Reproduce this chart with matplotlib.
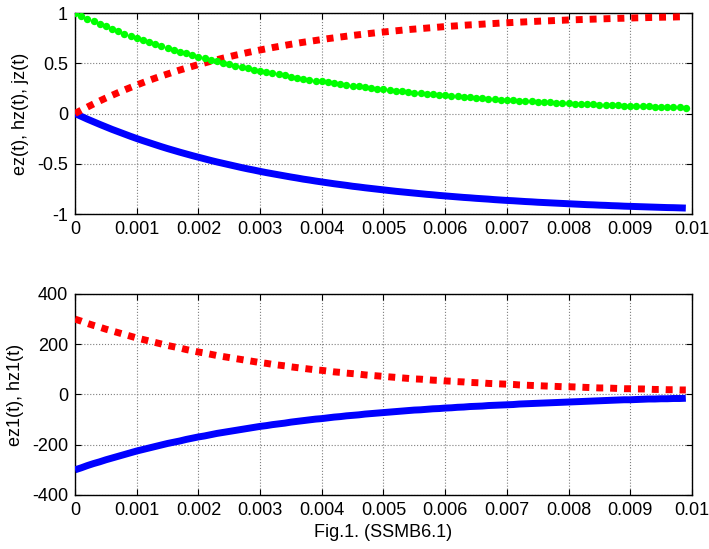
import matplotlib
matplotlib.use("Agg")
import matplotlib.pyplot as plt
import numpy as np

plt.rcParams['font.family'] = ['Liberation Sans', 'DejaVu Sans']

# time axis: 0 .. 0.0099 step 0.0001
t = np.arange(100) * 0.0001

jz = [1.000, 0.972, 0.944, 0.918, 0.892, 0.867, 0.842, 0.819, 0.796, 0.773,
      0.751, 0.730, 0.710, 0.690, 0.670, 0.651, 0.633, 0.615, 0.598, 0.581,
      0.565, 0.549, 0.533, 0.518, 0.504, 0.490, 0.476, 0.462, 0.449, 0.437,
      0.424, 0.412, 0.401, 0.390, 0.379, 0.368, 0.358, 0.347, 0.338, 0.328,
      0.319, 0.310, 0.301, 0.293, 0.285, 0.276, 0.269, 0.261, 0.254, 0.247,
      0.240, 0.233, 0.226, 0.220, 0.214, 0.208, 0.202, 0.196, 0.191, 0.185,
      0.180, 0.175, 0.170, 0.165, 0.161, 0.156, 0.152, 0.148, 0.143, 0.139,
      0.135, 0.132, 0.128, 0.124, 0.121, 0.117, 0.114, 0.111, 0.108, 0.105,
      0.102, 0.099, 0.096, 0.093, 0.091, 0.088, 0.086, 0.083, 0.081, 0.078,
      0.076, 0.074, 0.072, 0.070, 0.068, 0.066, 0.064, 0.063, 0.061, 0.059]

hz = [0.000, 0.033, 0.064, 0.095, 0.125, 0.154, 0.181, 0.208, 0.234, 0.259,
      0.283, 0.307, 0.330, 0.352, 0.373, 0.393, 0.413, 0.433, 0.451, 0.469,
      0.487, 0.503, 0.520, 0.535, 0.551, 0.565, 0.580, 0.593, 0.607, 0.620,
      0.632, 0.644, 0.656, 0.667, 0.678, 0.689, 0.699, 0.709, 0.718, 0.727,
      0.736, 0.745, 0.753, 0.761, 0.769, 0.777, 0.784, 0.791, 0.798, 0.805,
      0.811, 0.817, 0.823, 0.829, 0.835, 0.840, 0.845, 0.850, 0.855, 0.860,
      0.865, 0.869, 0.873, 0.878, 0.882, 0.885, 0.889, 0.893, 0.896, 0.900,
      0.903, 0.906, 0.909, 0.912, 0.915, 0.918, 0.921, 0.923, 0.926, 0.928,
      0.931, 0.933, 0.935, 0.937, 0.939, 0.941, 0.943, 0.945, 0.947, 0.948,
      0.950, 0.952, 0.953, 0.955, 0.956, 0.958, 0.959, 0.960, 0.962, 0.963]

ez = [0.000, -0.028, -0.056, -0.082, -0.108, -0.133, -0.158, -0.181, -0.204, -0.227,
      -0.249, -0.270, -0.290, -0.310, -0.330, -0.349, -0.367, -0.385, -0.402, -0.419,
      -0.435, -0.451, -0.467, -0.482, -0.496, -0.510, -0.524, -0.538, -0.551, -0.563,
      -0.576, -0.588, -0.599, -0.610, -0.621, -0.632, -0.642, -0.653, -0.662, -0.672,
      -0.681, -0.690, -0.699, -0.707, -0.715, -0.724, -0.731, -0.739, -0.746, -0.753,
      -0.760, -0.767, -0.774, -0.780, -0.786, -0.792, -0.798, -0.804, -0.809, -0.815,
      -0.820, -0.825, -0.830, -0.835, -0.839, -0.844, -0.848, -0.852, -0.857, -0.861,
      -0.865, -0.868, -0.872, -0.876, -0.879, -0.883, -0.886, -0.889, -0.892, -0.895,
      -0.898, -0.901, -0.904, -0.907, -0.909, -0.912, -0.914, -0.917, -0.919, -0.922,
      -0.924, -0.926, -0.928, -0.930, -0.932, -0.934, -0.936, -0.937, -0.939, -0.941]

hz1 = [300, 292, 283, 275, 268, 260, 253, 246, 239, 232,
       225, 219, 213, 207, 201, 195, 190, 185, 179, 174,
       169, 165, 160, 155, 151, 147, 143, 139, 135, 131,
       127, 124, 120, 117, 114, 110, 107, 104, 101, 98,
       96, 93, 90, 88, 85, 83, 81, 78, 76, 74,
       72, 70, 68, 66, 64, 62, 61, 59, 57, 56,
       54, 53, 51, 50, 48, 47, 46, 44, 43, 42,
       41, 40, 38, 37, 36, 35, 34, 33, 32, 31,
       31, 30, 29, 28, 27, 26, 26, 25, 24, 23,
       23, 22, 22, 21, 20, 20, 19, 19, 18, 18]

ez1 = [-300, -292, -283, -275, -268, -260, -253, -246, -239, -232,
       -225, -219, -213, -207, -201, -195, -190, -185, -179, -174,
       -169, -165, -160, -155, -151, -147, -143, -139, -135, -131,
       -127, -124, -120, -117, -114, -110, -107, -104, -101, -98,
       -96, -93, -90, -88, -85, -83, -81, -78, -76, -74,
       -72, -70, -68, -66, -64, -62, -61, -59, -57, -56,
       -54, -53, -51, -50, -48, -47, -46, -44, -43, -42,
       -41, -40, -38, -37, -36, -35, -34, -33, -32, -31,
       -30, -29, -28, -27, -26, -25, -24, -23, -22, -21,
       -21, -20, -19, -18, -18, -17, -17, -16, -16, -15]

xticks = [0, 0.001, 0.002, 0.003, 0.004, 0.005, 0.006, 0.007, 0.008, 0.009, 0.01]
xticklabels = ['0', '0.001', '0.002', '0.003', '0.004', '0.005', '0.006',
               '0.007', '0.008', '0.009', '0.01']
yticks_top = [-1, -0.5, 0, 0.5, 1]
yticklabels_top = ['-1', '-0.5', '0', '0.5', '1']
yticks_bot = [-400, -200, 0, 200, 400]
yticklabels_bot = ['-400', '-200', '0', '200', '400']

fig = plt.figure(figsize=(7.09, 5.49), dpi=100)
ax1 = fig.add_axes([0.1058, 0.6102, 0.8702, 0.3661])
ax2 = fig.add_axes([0.1058, 0.0984, 0.8702, 0.3661])

lw = 5.0
dot = (0, (1, 1))
fs = 13

ax1.plot(t, ez, color='#0000ff', lw=lw, solid_capstyle='butt', zorder=3)
ax1.plot(t, hz, color='#ff0000', lw=lw, linestyle=dot, zorder=4)
ax1.plot(t, jz, color='#00ff00', linestyle='none', marker='o', markersize=5.3,
         markeredgewidth=0, zorder=5)

ax2.plot(t, ez1, color='#0000ff', lw=lw, solid_capstyle='butt', zorder=3)
ax2.plot(t, hz1, color='#ff0000', lw=lw, linestyle=dot, zorder=4)

for ax, yt, ytl, ylim, ylab in [
        (ax1, yticks_top, yticklabels_top, (-1, 1), 'ez(t), hz(t), jz(t)'),
        (ax2, yticks_bot, yticklabels_bot, (-400, 400), 'ez1(t), hz1(t)')]:
    ax.set_xlim(0, 0.01)
    ax.set_ylim(*ylim)
    ax.set_xticks(xticks)
    ax.set_xticklabels(xticklabels)
    ax.set_yticks(yt)
    ax.set_yticklabels(ytl)
    ax.tick_params(direction='in', top=True, right=True, length=4, width=0.8,
                   labelsize=fs, pad=5, colors='black')
    ax.grid(True, color='#7f7f7f', linestyle=':', linewidth=0.8)
    for s in ax.spines.values():
        s.set_linewidth(1.0)
        s.set_color('black')
    ax.set_ylabel(ylab, fontsize=fs, labelpad=6)

ax2.set_xlabel('Fig.1. (SSMB6.1)', fontsize=fs, labelpad=4)

fig.savefig('out.png', dpi=100)
